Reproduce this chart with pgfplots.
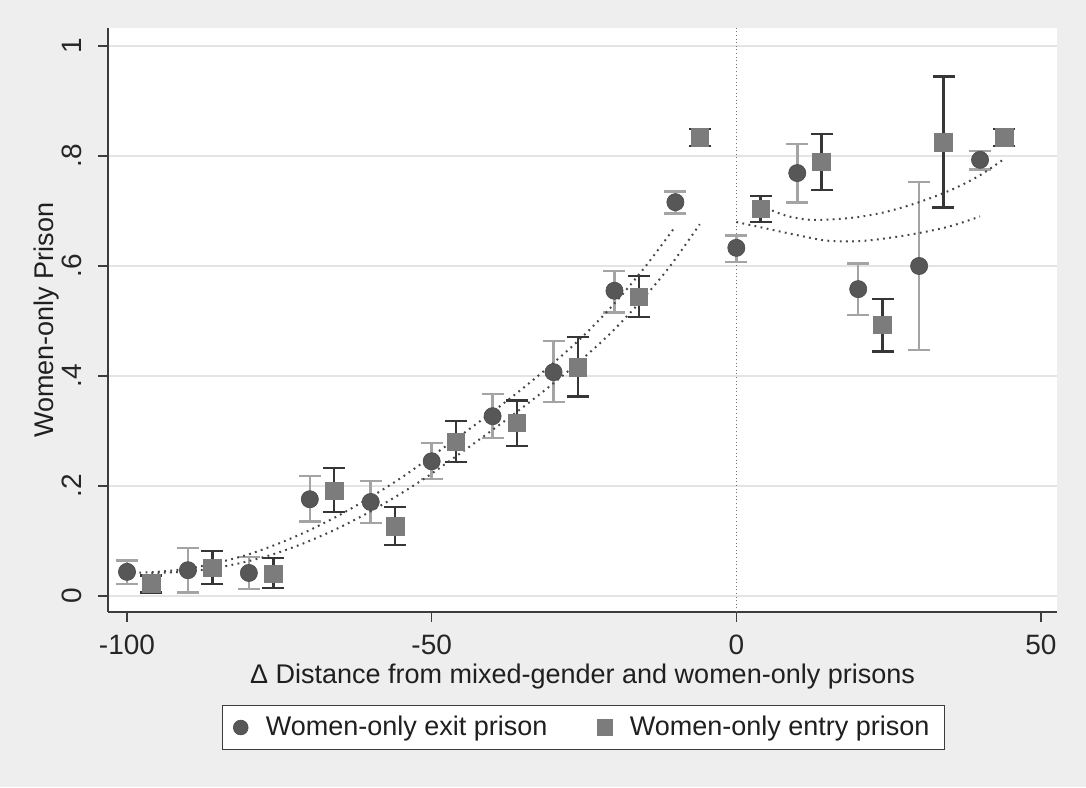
\documentclass[border=0pt]{standalone}
\usepackage{fontspec}
\setmainfont{Liberation Sans}
\usepackage{pgfplots}
\usepackage{pgfplotstable}
\pgfplotsset{compat=1.18}
\definecolor{bgc}{HTML}{EEEEEE}
\definecolor{gridc}{HTML}{E4E4E4}
\definecolor{axc}{HTML}{3C3C3C}
\definecolor{circc}{HTML}{575757}
\definecolor{circci}{HTML}{A4A4A4}
\definecolor{sqc}{HTML}{7C7C7C}
\definecolor{sqci}{HTML}{363636}
\definecolor{fitc}{HTML}{464646}

\pgfplotstableread{
x y lo hi
-100 0.044 0.022 0.065
-90 0.047 0.007 0.087
-80 0.042 0.013 0.071
-70 0.176 0.135 0.218
-60 0.171 0.133 0.209
-50 0.245 0.213 0.278
-40 0.327 0.287 0.367
-30 0.407 0.353 0.464
-20 0.555 0.516 0.591
-10 0.716 0.696 0.735
0 0.633 0.607 0.656
10 0.769 0.716 0.822
20 0.558 0.511 0.605
30 0.600 0.447 0.753
40 0.793 0.776 0.809
}\exitdata

\pgfplotstableread{
x y lo hi
-96 0.023 0.006 0.037
-86 0.051 0.022 0.082
-76 0.040 0.015 0.069
-66 0.191 0.153 0.233
-56 0.127 0.093 0.162
-46 0.280 0.244 0.318
-36 0.315 0.273 0.355
-26 0.416 0.363 0.471
-16 0.544 0.507 0.582
-6 0.834 0.818 0.849
4 0.704 0.680 0.727
14 0.789 0.738 0.840
24 0.493 0.445 0.540
34 0.825 0.706 0.945
44 0.834 0.818 0.849
}\entrydata

\begin{document}
\begin{tikzpicture}
\fill[bgc] (-54pt,-87.5pt) rectangle (489pt,306pt);
\begin{axis}[
  at={(0pt,0pt)}, anchor=south west,
  scale only axis,
  width=474.5pt, height=292pt,
  xmin=-103.12, xmax=52.63,
  ymin=-0.029, ymax=1.0327,
  axis x line*=bottom, axis y line*=left,
  axis line style={-, draw=axc, line width=1pt},
  axis background/.style={fill=white},
  xtick={-100,-50,0,50},
  xticklabels={-100,-50,0,50},
  ytick={0,0.2,0.4,0.6,0.8,1},
  yticklabels={0,.2,.4,.6,.8,1},
  tick align=outside,
  major tick length=5pt,
  tick style={draw=axc, line width=0.8pt},
  ymajorgrids,
  grid style={draw=gridc, line width=1pt},
  ticklabel style={font=\fontsize{14}{15}\selectfont, text=black!85},
  xticklabel style={inner sep=0pt, yshift=-6.5pt},
  yticklabel style={rotate=90, anchor=south, yshift=4.5pt},
  xlabel={Δ Distance from mixed-gender and women-only prisons},
  ylabel={Women-only Prison},
  label style={font=\fontsize{13.5}{15}\selectfont, text=black!88},
  xlabel style={at={(rel axis cs:0.5,0)}, anchor=center, yshift=-32.5pt, inner sep=0pt},
  ylabel style={at={(rel axis cs:0,0.5)}, anchor=center, yshift=30.5pt},
  legend columns=2,
  legend style={at={(rel axis cs:0.501,-0.1978)}, anchor=center,
    draw=axc, line width=0.6pt, fill=white,
    font=\fontsize{13.5}{16}\selectfont,
    inner xsep=5.5pt, inner ysep=3.5pt,
    /tikz/every even column/.append style={column sep=23pt},
    nodes={inner sep=2pt, text=black!88}},
  legend cell align=left,
  legend image code/.code={\path[draw=none] (0pt,0pt) -- (10.5pt,0pt); \path[#1, every mark/.append style={scale=0.86}] plot coordinates {(0pt,0pt)};},
  clip=false,
]
% vertical reference line
\addplot[forget plot, draw=black!55, line width=0.6pt, dash pattern=on 0.5pt off 1.3pt] coordinates {(0,-0.029) (0,1.0327)};

% markers
\addplot[only marks, mark=*, mark size=4.3pt, mark options={fill=circc, draw=circc!85!black, line width=0.3pt}] table[x=x,y=y] {\exitdata};
\addlegendentry{Women-only exit prison}
\addplot[only marks, mark=square*, mark size=4.4pt, mark options={fill=sqc, draw=sqc}] table[x=x,y=y] {\entrydata};
\addlegendentry{Women-only entry prison}

% CI bars
\addplot[forget plot, draw=none, mark=none,
  error bars/.cd, y dir=both, y explicit,
  error bar style={draw=circci, line width=1.3pt},
  error mark options={rotate=90, draw=circci, line width=1.3pt, mark size=5.5pt}]
  table[x=x, y=y, y error plus expr=\thisrow{hi}-\thisrow{y}, y error minus expr=\thisrow{y}-\thisrow{lo}] {\exitdata};
\addplot[forget plot, draw=none, mark=none,
  error bars/.cd, y dir=both, y explicit,
  error bar style={draw=sqci, line width=1.3pt},
  error mark options={rotate=90, draw=sqci, line width=1.3pt, mark size=5.5pt}]
  table[x=x, y=y, y error plus expr=\thisrow{hi}-\thisrow{y}, y error minus expr=\thisrow{y}-\thisrow{lo}] {\entrydata};

% fitted lines
\addplot[forget plot, smooth, draw=fitc, line width=1pt, dash pattern=on 0.9pt off 2.2pt] coordinates {
(-100,0.042) (-95,0.044) (-90,0.05) (-85,0.061) (-80,0.076) (-75,0.096) (-70,0.12) (-65,0.148) (-60,0.18) (-55,0.215) (-50,0.254) (-45,0.294) (-40,0.335) (-35,0.378) (-30,0.424) (-25,0.474) (-20,0.532) (-15,0.598) (-10,0.672)};
\addplot[forget plot, smooth, draw=fitc, line width=1pt, dash pattern=on 0.9pt off 2.2pt] coordinates {
(-96,0.042) (-91,0.044) (-86,0.05) (-81,0.061) (-76,0.076) (-71,0.096) (-66,0.12) (-61,0.148) (-56,0.18) (-51,0.215) (-46,0.254) (-41,0.294) (-36,0.335) (-31,0.378) (-26,0.424) (-21,0.474) (-16,0.532) (-11,0.598) (-6,0.676)};
\addplot[forget plot, smooth, draw=fitc, line width=1pt, dash pattern=on 0.9pt off 2.2pt] coordinates {
(0,0.68) (5,0.668) (10,0.656) (15,0.646) (20,0.645) (25,0.651) (30,0.66) (35,0.672) (40,0.69)};
\addplot[forget plot, smooth, draw=fitc, line width=1pt, dash pattern=on 0.9pt off 2.2pt] coordinates {
(4,0.71) (8,0.692) (12,0.684) (16,0.685) (20,0.689) (24,0.697) (28,0.709) (32,0.724) (36,0.742) (40,0.765) (44,0.795)};
\end{axis}
\pgfresetboundingbox
\path[use as bounding box] (-54pt,-87.5pt) rectangle (489pt,306pt);
\end{tikzpicture}
\end{document}
